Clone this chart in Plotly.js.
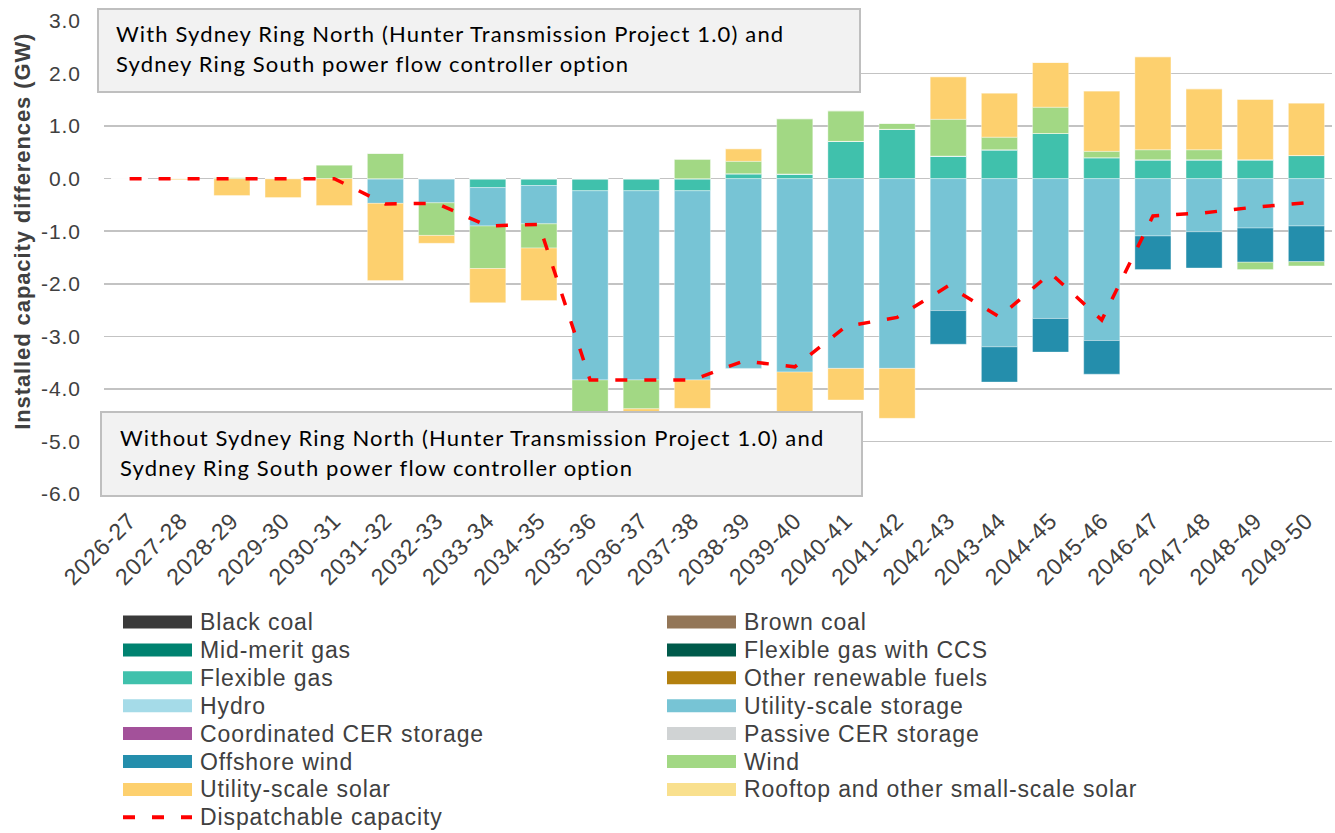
<!DOCTYPE html>
<html>
<head>
<meta charset="utf-8">
<script src="https://cdn.plot.ly/plotly-3.0.1.min.js"></script>
<style>
html,body{margin:0;padding:0;background:#fff;}
#chart{width:1335px;height:833px;}
.main-svg text{letter-spacing:0.9px;}
.main-svg .annotation.boxline text{letter-spacing:1.15px;}
</style>
</head>
<body>
<div id="chart"></div>
<script>
const categories = ["2026-27","2027-28","2028-29","2029-30","2030-31","2031-32","2032-33","2033-34","2034-35","2035-36","2036-37","2037-38","2038-39","2039-40","2040-41","2041-42","2042-43","2043-44","2044-45","2045-46","2046-47","2047-48","2048-49","2049-50"];

const zeros = categories.map(() => 0);
const blackCoal = zeros.slice();
const brownCoal = zeros.slice();
const midMeritGas = zeros.slice();
const flexGasCCS = zeros.slice();
const flexibleGas = [0,0,0,0,0,0,0,-0.17,-0.13,-0.23,-0.23,-0.23,0.095,0.09,0.71,0.94,0.43,0.55,0.86,0.40,0.36,0.36,0.36,0.44];
const otherRenewableFuels = zeros.slice();
const hydro = zeros.slice();
const utilityStorage = [0,0,0,0,0,-0.47,-0.46,-0.73,-0.73,-3.60,-3.60,-3.60,-3.61,-3.68,-3.61,-3.61,-2.51,-3.20,-2.66,-3.08,-1.09,-1.01,-0.94,-0.90];
const coordinatedCER = zeros.slice();
const passiveCER = zeros.slice();
const offshoreWind = [0,0,0,0,0,0,0,0,0,0,0,0,0,0,0,0,-0.64,-0.67,-0.64,-0.64,-0.64,-0.69,-0.65,-0.68];
const wind = [0,0,0.02,0,0.26,0.48,-0.62,-0.81,-0.46,-0.80,-0.55,0.37,0.235,1.05,0.58,0.11,0.70,0.24,0.50,0.12,0.19,0.19,-0.14,-0.08];
const utilitySolar = [0,-0.02,-0.32,-0.36,-0.51,-1.47,-0.15,-0.65,-1.00,0,-0.20,-0.54,0.24,-0.90,-0.60,-0.95,0.81,0.84,0.85,1.15,1.77,1.16,1.15,1.00];
const rooftopSolar = zeros.slice();
const dispatchable = [0,0,0,0,0,-0.48,-0.47,-0.90,-0.87,-3.83,-3.83,-3.83,-3.47,-3.58,-2.81,-2.64,-2.04,-2.63,-1.80,-2.69,-0.71,-0.65,-0.54,-0.46];

const seriesNames = ["Black coal","Brown coal","Mid-merit gas","Flexible gas with CCS","Flexible gas","Other renewable fuels","Hydro","Utility-scale storage","Coordinated CER storage","Passive CER storage","Offshore wind","Wind","Utility-scale solar","Rooftop and other small-scale solar"];
const seriesValues = [blackCoal,brownCoal,midMeritGas,flexGasCCS,flexibleGas,otherRenewableFuels,hydro,utilityStorage,coordinatedCER,passiveCER,offshoreWind,wind,utilitySolar,rooftopSolar];
const seriesColors = ["#3a3a3a","#937657","#008270","#005a4b","#40c1ac","#b3800f","#a5dbe8","#77c4d5","#a3519a","#d0d3d4","#248eac","#a2d884","#fdd06e","#f9e08e"];
const lineName = "Dispatchable capacity";
const yTicks = [3,2,1,0,-1,-2,-3,-4,-5,-6];
const topBoxLines = ["With Sydney Ring North (Hunter Transmission Project 1.0) and", "Sydney Ring South power flow controller option"];
const bottomBoxLines = ["Without Sydney Ring North (Hunter Transmission Project 1.0) and", "Sydney Ring South power flow controller option"];
const yTitle = "Installed capacity differences (GW)";

// geometry helpers (pixel -> paper)
const W = 1335, H = 833;
const mL = 104, mR = 3, mT = 21, mB = 339;
const pw = W - mL - mR, ph = H - mT - mB;
const px = x => (x - mL) / pw;
const py = y => (H - mB - y) / ph;

const traces = seriesNames.map((n, i) => ({
  type: 'bar', name: n, x: categories, y: seriesValues[i],
  marker: {color: seriesColors[i], line: {width: 0.6, color: 'rgba(255,255,255,0.6)'}},
  showlegend: false, hoverinfo: 'x+y+name'
}));
traces.push({
  type: 'scatter', mode: 'lines', name: lineName, x: categories, y: dispatchable,
  line: {color: '#ff0000', width: 3.5, dash: '12px,17px'}, showlegend: false
});

const shapes = [];
const annotations = [];
const legendFont = {family: 'Liberation Sans, Arial, sans-serif', size: 23, color: '#404040'};
const items = seriesNames.map((n, i) => ({name: n, color: seriesColors[i], line: false}));
items.push({name: lineName, color: '#ff0000', line: true});
items.forEach((it, i) => {
  const col = i % 2, row = Math.floor(i / 2);
  const sx = col === 0 ? 123 : 667;
  const cy = 622 + row * 27.9;
  if (it.line) {
    shapes.push({type: 'line', xref: 'paper', yref: 'paper', x0: px(sx), x1: px(sx + 69), y0: py(cy), y1: py(cy),
      line: {color: it.color, width: 4, dash: '12px,17px'}});
  } else {
    shapes.push({type: 'rect', xref: 'paper', yref: 'paper', x0: px(sx), x1: px(sx + 69), y0: py(cy - 6.5), y1: py(cy + 6.5),
      fillcolor: it.color, line: {width: 0}});
  }
  annotations.push({xref: 'paper', yref: 'paper', x: px(sx + 75), y: py(cy), xanchor: 'left', yanchor: 'middle', align: 'left',
    text: it.name, showarrow: false, font: legendFont});
});

// scenario boxes
shapes.push({type: 'rect', xref: 'paper', yref: 'paper', layer: 'above', x0: px(98), x1: px(860), y0: py(9), y1: py(92),
  fillcolor: '#f2f2f2', line: {color: '#bfbfbf', width: 2}});
shapes.push({type: 'rect', xref: 'paper', yref: 'paper', layer: 'above', x0: px(101), x1: px(862), y0: py(412), y1: py(496),
  fillcolor: '#f2f2f2', line: {color: '#bfbfbf', width: 2}});
const boxFont = {family: 'Lato, Liberation Sans, Arial, sans-serif', size: 22, color: '#000000'};
const boxLine = (txt, x, y) => ({xref: 'paper', yref: 'paper', x: px(x), y: py(y), xanchor: 'left', yanchor: 'middle', align: 'left',
  text: txt, showarrow: false, font: boxFont, borderpad: 0});
annotations.push(boxLine(topBoxLines[0], 115, 33.5));
annotations.push(boxLine(topBoxLines[1], 115, 63));
annotations.push(boxLine(bottomBoxLines[0], 119, 437.5));
annotations.push(boxLine(bottomBoxLines[1], 119, 467));

annotations.push({xref: 'paper', yref: 'paper', x: px(22), y: py(231), xanchor: 'center', yanchor: 'middle',
  text: '<b>' + yTitle + '</b>', textangle: -90, showarrow: false,
  font: {family: 'Liberation Sans, Arial, sans-serif', size: 22, color: '#404040'}});

const layout = {
  width: W, height: H,
  margin: {l: mL, r: mR, t: mT, b: mB, pad: 0},
  paper_bgcolor: '#ffffff', plot_bgcolor: '#ffffff',
  barmode: 'relative', bargap: 0.295,
  showlegend: false,
  xaxis: {type: 'category', tickangle: -45, showgrid: false, zeroline: false, showline: false,
    ticks: 'outside', ticklen: 3, tickcolor: 'rgba(0,0,0,0)',
    tickfont: {family: 'Liberation Sans, Arial, sans-serif', size: 23, color: '#404040'}},
  yaxis: {range: [-6, 3], tickvals: yTicks, ticktext: yTicks.map(v => v.toFixed(1)),
    showgrid: true, gridcolor: '#c3c3c3', gridwidth: 1.5, zeroline: false, showline: false,
    ticks: 'outside', ticklen: 18, tickcolor: 'rgba(0,0,0,0)',
    tickfont: {family: 'Liberation Sans, Arial, sans-serif', size: 21, color: '#404040'}},
  shapes: shapes,
  annotations: annotations
};

Plotly.newPlot('chart', traces, layout, {displayModeBar: false, staticPlot: true}).then(() => {
  document.querySelectorAll('#chart .annotation').forEach(g => {
    const t = g.querySelector('text');
    if (t && /Sydney Ring/.test(t.textContent)) g.classList.add('boxline');
  });
});
</script>
</body>
</html>
